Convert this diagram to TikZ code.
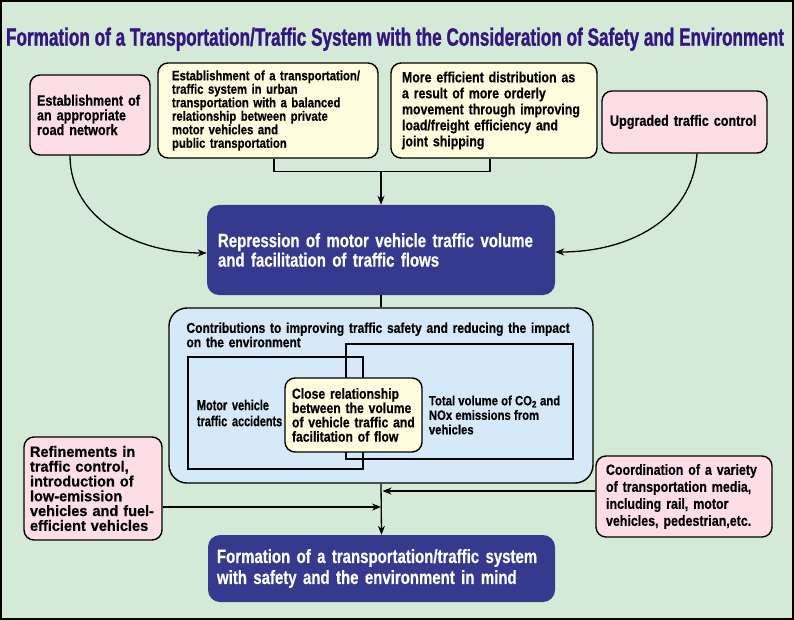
\documentclass[tikz,border=0pt]{standalone}
\usepackage{fontspec}
\setmainfont{Liberation Sans}[FakeStretch=0.84, BoldFeatures={FakeBold=0.5}]
\newfontfamily\widefont{Liberation Sans}[FakeStretch=0.97, BoldFeatures={FakeBold=0.5}]
\newfontfamily\narrowfont{Liberation Sans}[FakeStretch=0.75, BoldFeatures={FakeBold=0.5}]
\newfontfamily\navyfont{Liberation Sans}[FakeStretch=0.78, BoldFeatures={FakeBold=0.4}]
\newfontfamily\titlefont{Liberation Sans}[FakeStretch=0.62, BoldFeatures={FakeBold=1}]
\usetikzlibrary{arrows.meta}

\definecolor{bggreen}{RGB}{213,234,214}
\definecolor{boxpink}{RGB}{253,222,231}
\definecolor{boxcream}{RGB}{255,253,222}
\definecolor{boxnavy}{RGB}{54,58,142}
\definecolor{boxsky}{RGB}{214,233,248}
\definecolor{titlepurple}{RGB}{52,22,130}

\tikzset{
  card/.style={draw=black, line width=1.4pt, rounded corners=10pt, align=left, inner ysep=0pt},
  pinkcard/.style={card, fill=boxpink},
  creamcard/.style={card, fill=boxcream},
  navycard/.style={fill=boxnavy, rounded corners=12pt, align=left, text=white, inner ysep=0pt},
  frame/.style={draw=black, line width=1.3pt, inner sep=0pt},
  link/.style={line width=1.3pt, draw=black},
  arr/.style={link, -{Stealth[length=9pt, width=7pt]}},
}

\begin{document}
\begin{tikzpicture}[x=1pt, y=-1pt]
\useasboundingbox (0,0) rectangle (794,620);
\draw[line width=2pt, fill=bggreen] (1,1) rectangle (793,619);

% title
\node[anchor=base, text=titlepurple, inner sep=0pt] (title) at (395,45.7)
  {\resizebox{778pt}{\height}{\titlefont\bfseries\fontsize{25}{25}\selectfont Formation of a Transportation/Traffic System with the Consideration of Safety and Environment}};

% top row
\node[pinkcard, minimum width=120pt, minimum height=80pt, text width=106pt, inner xsep=7pt,
  font=\bfseries\fontsize{15}{14.7}\selectfont] (road) at (90,115)
  {Establishment of\\an appropriate\\road network};
\node[creamcard, minimum width=220pt, minimum height=95pt, text width=192pt, inner xsep=14pt,
  font=\bfseries\fontsize{13.5}{13.5}\selectfont] (urban) at (268,110.5)
  {Establishment of a transportation/\\traffic system in urban\\transportation with a balanced\\relationship between private\\motor vehicles and\\public transportation};
\node[creamcard, minimum width=206pt, minimum height=95pt, text width=184pt, inner xsep=11pt,
  font=\bfseries\fontsize{14.7}{16}\selectfont] (freight) at (494,110.5)
  {More efficient distribution as\\a result of more orderly\\movement through improving\\load/freight efficiency and\\joint shipping};
\node[pinkcard, minimum width=165pt, minimum height=62pt, text width=149pt, inner xsep=8pt,
  font=\bfseries\fontsize{15}{15}\selectfont] (upgraded) at (684.5,122)
  {Upgraded traffic control};

% repression
\node[navycard, minimum width=348pt, minimum height=90pt, text width=326pt, inner xsep=11pt,
  font=\navyfont\bfseries\fontsize{19.2}{19.5}\selectfont] (repress) at (381,250)
  {Repression of motor vehicle traffic volume\\and facilitation of traffic flows};

% contributions
\node[draw=black, line width=1.4pt, fill=boxsky, rounded corners=18pt,
  minimum width=424pt, minimum height=175pt] (container) at (381,395.5) {};
\node[anchor=north west, align=left, inner sep=0pt, text width=410pt,
  font=\bfseries\fontsize{14.3}{14.3}\selectfont] (contrib) at ([xshift=18pt, yshift=-15pt]container.north west)
  {Contributions to improving traffic safety and reducing the impact\\on the environment};
\node[frame, minimum width=175pt, minimum height=112pt, text width=157pt, inner xsep=9pt, align=left,
  font=\narrowfont\bfseries\fontsize{14.5}{16}\selectfont] (accidents) at (275.5,413)
  {Motor vehicle\\traffic accidents};
\node[frame, minimum width=227pt, minimum height=115pt] (emissions) at (459.5,401.5) {};
\node[creamcard, minimum width=137pt, minimum height=74pt, text width=123pt, inner xsep=7pt,
  font=\bfseries\fontsize{14.5}{14.3}\selectfont] (close) at (353.5,415)
  {Close relationship\\between the volume\\of vehicle traffic and\\facilitation of flow};
\node[anchor=west, align=left, inner sep=0pt,
  font=\bfseries\fontsize{13.5}{14.5}\selectfont] (emisstxt) at ([xshift=6pt]close.east)
  {Total volume of CO\textsubscript{2} and\\NOx emissions from\\vehicles};

% bottom row
\node[pinkcard, minimum width=138pt, minimum height=103pt, text width=126pt, inner xsep=6pt,
  font=\widefont\bfseries\fontsize{15}{14.8}\selectfont] (refine) at (93,488.5)
  {Refinements in\\traffic control,\\introduction of\\low-emission\\vehicles and fuel-\\efficient vehicles};
\node[pinkcard, minimum width=176pt, minimum height=81pt, text width=162pt, inner xsep=7pt,
  font=\bfseries\fontsize{14.8}{17}\selectfont] (coord) at (684,496.5)
  {\hspace*{3pt}Coordination of a variety\\\hspace*{3pt}of transportation media,\\\hspace*{3pt}including rail, motor\\\hspace*{3pt}vehicles, pedestrian,etc.};
\node[navycard, minimum width=347pt, minimum height=67pt, text width=329pt, inner xsep=9pt,
  font=\navyfont\bfseries\fontsize{19.2}{21}\selectfont] (formation) at (381.5,568.5)
  {Formation of a transportation/traffic system\\with safety and the environment in mind};

% connectors
\coordinate (merge) at ([yshift=-12.5pt]repress.north |- urban.south);
\draw[link] ([xshift=6pt]urban.south) |- (merge) -| ([xshift=-4pt]freight.south);
\draw[arr] (merge) -- (merge |- repress.north);
\draw[arr] ([xshift=-20pt]road.south) .. controls +(0,62) and +(-72,0) .. ([yshift=-3pt]repress.west);
\draw[arr] ([xshift=12.5pt]upgraded.south) .. controls +(-5,65) and +(75,0) .. ([yshift=-2pt]repress.east);
\draw[link] (repress.south) -- (container.north);
\draw[arr] (container.south) -- (formation.north);
\draw[arr] ([yshift=5.5pt]coord.west) -- ([xshift=1.5pt, yshift=5.5pt]coord.west -| container.south);
\draw[arr] ([yshift=-18.5pt]refine.east) -- ([yshift=-18.5pt]refine.east -| container.south);
\end{tikzpicture}
\end{document}
